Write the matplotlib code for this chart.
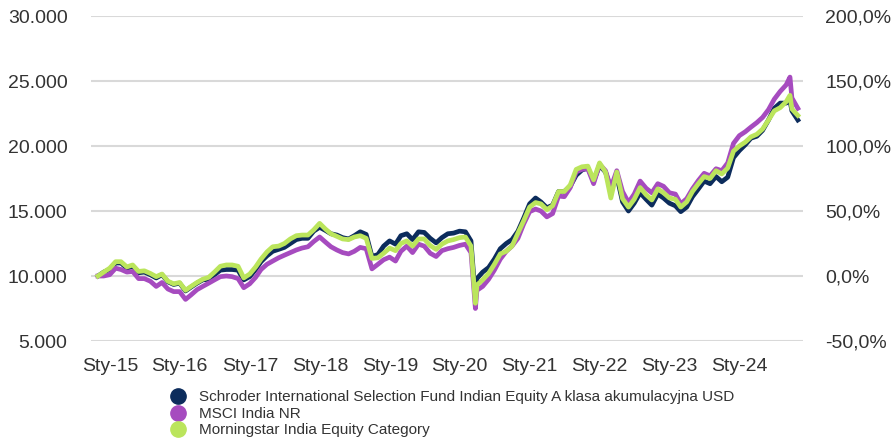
import numpy as np
import pandas as pd
import matplotlib
matplotlib.use("Agg")
import matplotlib.pyplot as plt
import matplotlib.dates as mdates
from matplotlib.lines import Line2D
from matplotlib.ticker import FuncFormatter

plt.rcParams['font.family'] = ['Liberation Sans', 'DejaVu Sans']

# month-end values of 10 000 invested, Oct 2014 .. Oct 2024
dates = pd.date_range("2014-10-31", "2024-10-31", freq="ME")

fund = [
    10000, 10300, 10500, 11000, 11000, 10600, 10750, 10250, 10300, 10100, 9850, 10100,
    9550, 9350, 9450, 8850, 9150, 9450, 9700, 9750, 10100, 10450, 10500, 10500,
    10450, 9700, 9950, 10500, 11100, 11550, 11900, 12050, 12200, 12500, 12800, 12900,
    12900, 13450, 13750, 13500, 13250, 13150, 12950, 12850, 13100, 13400, 13200, 11500,
    11650, 12300, 12700, 12450, 13100, 13250, 12800, 13400, 13350, 12900, 12550, 12950,
    13250, 13300, 13450, 13400, 12700, 9800, 10300, 10650, 11300, 12100, 12500, 12800,
    13450, 14450, 15550, 16000, 15700, 15250, 15450, 16500, 16500, 16900, 17750, 18150,
    18300, 17300, 18500, 18000, 16700, 17700, 15700, 15000, 15600, 16400, 15900, 15450,
    16300, 16000, 15600, 15400, 14950, 15300, 16100, 16700, 17300, 17100, 17650, 17250,
    17600, 19100, 19650, 20100, 20600, 20750, 21200, 22000, 22900, 23300, 23300, 22700,
    22000,
]
msci = [
    10000, 10000, 10100, 10600, 10500, 10300, 10350, 9800, 9800, 9600, 9200, 9500,
    9000, 8800, 8800, 8200, 8550, 8950, 9200, 9450, 9700, 9950, 10000, 9950,
    9800, 9100, 9400, 9900, 10500, 10900, 11150, 11400, 11600, 11800, 12000, 12150,
    12250, 12650, 13000, 12600, 12250, 12000, 11800, 11700, 11900, 12200, 12100, 10550,
    10900, 11250, 11450, 11150, 11900, 12300, 11800, 12450, 12300, 11750, 11500, 11950,
    12100, 12200, 12350, 12450, 11800, 8900, 9200, 9750, 10450, 11300, 11900, 12300,
    12900, 14000, 14950, 15150, 15000, 14550, 14800, 16150, 16100, 16800, 18000, 18200,
    18250, 17100, 18600, 18100, 16800, 18100, 16500, 15650, 16300, 17300, 16750, 16400,
    17100, 16900, 16400, 16300, 15550, 15950, 16700, 17350, 17900, 17700, 18250, 18100,
    18700, 20200, 20800, 21100, 21450, 21800, 22200, 22800, 23600, 24200, 24700, 23700,
    22900,
]
category = [
    10000, 10300, 10600, 11100, 11100, 10700, 10850, 10350, 10400, 10200, 9950, 10150,
    9600, 9400, 9500, 8900, 9200, 9500, 9750, 9900, 10300, 10750, 10850, 10850,
    10750, 9850, 10150, 10700, 11300, 11850, 12250, 12300, 12500, 12850, 13100, 13150,
    13150, 13550, 14050, 13600, 13250, 13050, 12850, 12800, 13000, 13100, 12900, 11350,
    11400, 11750, 12150, 11950, 12500, 12700, 12300, 12850, 12850, 12350, 12050, 12450,
    12700, 12800, 12950, 13000, 12300, 9300, 9700, 10200, 10900, 11700, 11900, 12300,
    13300, 14250, 15300, 15650, 15550, 15100, 15400, 16500, 16500, 17000, 18200, 18400,
    18450, 17400, 18700, 18000, 16000, 18000, 15950, 15300, 15900, 16800, 16250, 15850,
    16700, 16400, 16000, 15900, 15300, 15700, 16500, 17100, 17650, 17500, 18100, 17850,
    18300, 19600, 20000, 20300, 20700, 20900, 21300, 22000, 22700, 22950, 23400, 22850,
    22350,
]

# a few daily extremes the monthly points would miss
extra_dates = pd.to_datetime(["2020-03-23", "2024-09-20"])
fund_extra = [8300, 23500]
msci_extra = [7500, 25300]
category_extra = [7900, 23900]

names = [
    "Schroder International Selection Fund Indian Equity A klasa akumulacyjna USD",
    "MSCI India NR",
    "Morningstar India Equity Category",
]
colors = ["#0c2c5c", "#a64bbf", "#bbe55c"]


def series(vals, extra):
    s = pd.Series(list(vals) + list(extra), index=dates.append(extra_dates))
    return s.sort_index()


lines = [series(fund, fund_extra), series(msci, msci_extra), series(category, category_extra)]

fig = plt.figure(figsize=(8.93, 4.42), dpi=100)
ax = fig.add_axes([0.102, 0.2285, 0.797, 0.7353])

for s, c in zip(lines, colors):
    ax.plot(s.index, s.values, color=c, lw=3.4, solid_joinstyle="round")

ax.set_ylim(5000, 30000)
ax.set_yticks(np.arange(5000, 30001, 5000))
ax.yaxis.set_major_formatter(FuncFormatter(lambda v, p: f"{v:,.0f}".replace(",", ".")))
ax.set_xlim(pd.Timestamp("2014-09-25"), pd.Timestamp("2024-11-26"))
ax.set_xticks(pd.date_range("2015-01-01", "2024-01-01", freq="YS"))
ax.xaxis.set_major_formatter(mdates.DateFormatter("Sty-%y"))
ax.grid(axis="y", color="#d9d9d9", lw=1.5)
ax.set_axisbelow(True)
for sp in ax.spines.values():
    sp.set_visible(False)
ax.tick_params(axis="both", length=0, labelsize=14, labelcolor="#333333")
ax.tick_params(axis="x", pad=12)
ax.tick_params(axis="y", pad=17)

ax2 = ax.twinx()
ax2.set_ylim(-50, 200)
ax2.set_yticks(np.arange(-50, 201, 50))
ax2.yaxis.set_major_formatter(FuncFormatter(lambda v, p: f"{v:.1f}%".replace(".", ",")))
for sp in ax2.spines.values():
    sp.set_visible(False)
ax2.tick_params(axis="y", length=0, labelsize=14, labelcolor="#333333", pad=16)

handles = [Line2D([], [], ls="none", marker="o", markersize=11, color=c) for c in colors]
fig.legend(handles, names, loc="upper left", bbox_to_anchor=(0.191, 0.117),
           frameon=False, fontsize=11.0, labelspacing=0.17, handletextpad=0.85,
           handlelength=1.0, borderpad=0, borderaxespad=0, labelcolor="#333333")

fig.savefig("out.png", dpi=100)
